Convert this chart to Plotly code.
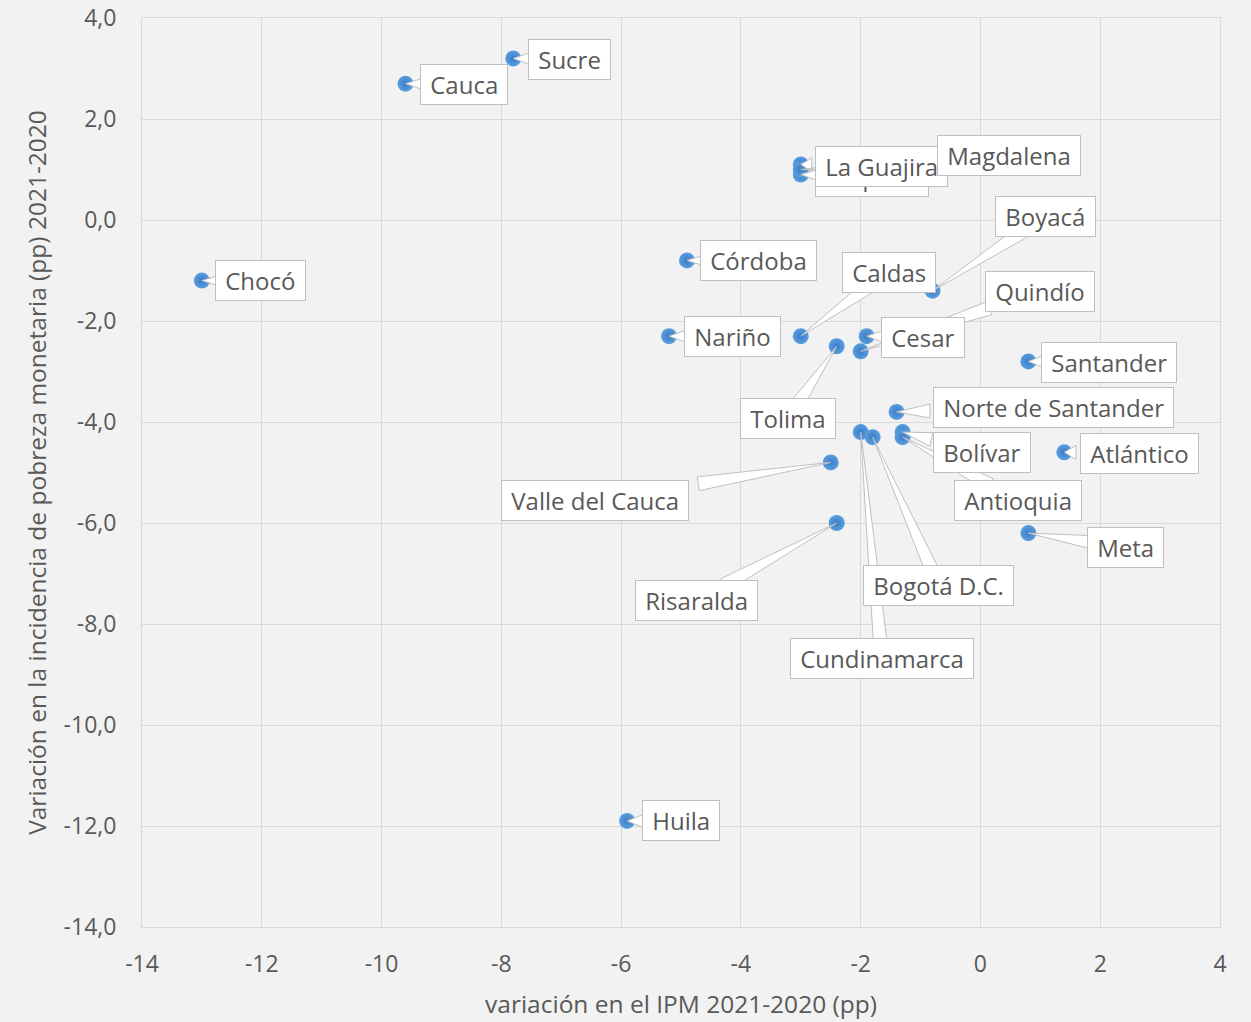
import math
import plotly.graph_objects as go

# Departments and their changes 2021-2020 (percentage points)
departamentos = [
    "Chocó", "Cauca", "Sucre", "La Guajira", "Caquetá", "Magdalena",
    "Córdoba", "Nariño", "Caldas", "Boyacá", "Quindío", "Cesar", "Tolima",
    "Santander", "Norte de Santander", "Bolívar", "Antioquia", "Atlántico",
    "Valle del Cauca", "Risaralda", "Cundinamarca", "Bogotá D.C.", "Meta",
    "Huila",
]
var_ipm = [
    -13.0, -9.6, -7.8, -3.0, -3.0, -3.0,
    -4.9, -5.2, -3.0, -0.8, -2.0, -1.9, -2.4,
    0.8, -1.4, -1.3, -1.3, 1.4,
    -2.5, -2.4, -2.0, -1.8, 0.8,
    -5.9,
]
var_pobreza = [
    -1.2, 2.7, 3.2, 1.1, 0.9, 1.0,
    -0.8, -2.3, -2.3, -1.4, -2.6, -2.3, -2.5,
    -2.8, -3.8, -4.2, -4.3, -4.6,
    -4.8, -6.0, -4.2, -4.3, -6.2,
    -11.9,
]

x_ticks = [-14, -12, -10, -8, -6, -4, -2, 0, 2, 4]
x_tick_labels = ["-14", "-12", "-10", "-8", "-6", "-4", "-2", "0", "2", "4"]
y_ticks = [4, 2, 0, -2, -4, -6, -8, -10, -12, -14]
y_tick_labels = ["4,0", "2,0", "0,0", "-2,0", "-4,0", "-6,0", "-8,0",
                 "-10,0", "-12,0", "-14,0"]

# Callout box centre relative to its point, in screen pixels (right, down)
label_offsets = {
    "Chocó": (59, 0), "Cauca": (58, 1), "Sucre": (56, 1),
    "La Guajira": (81, 2), "Caquetá": (71, 2), "Magdalena": (208, -14),
    "Córdoba": (72, 0), "Nariño": (63, 0), "Caldas": (88, -64),
    "Boyacá": (113, -74), "Quindío": (179, -60), "Cesar": (56, 1),
    "Tolima": (-49, 72), "Santander": (81, 1),
    "Norte de Santander": (157, -4), "Bolívar": (79, 20),
    "Antioquia": (115, 63), "Atlántico": (75, 1),
    "Valle del Cauca": (-236, 38), "Risaralda": (-140, 77),
    "Cundinamarca": (21, 226), "Bogotá D.C.": (66, 148),
    "Meta": (97, 14), "Huila": (54, 0),
}
# Drawing order of the callouts (later ones sit on top)
label_order = [
    "Chocó", "Cauca", "Sucre", "Caquetá", "La Guajira", "Magdalena",
    "Córdoba", "Nariño", "Caldas", "Boyacá", "Quindío", "Cesar", "Tolima",
    "Santander", "Antioquia", "Bolívar", "Norte de Santander", "Atlántico",
    "Valle del Cauca", "Risaralda", "Cundinamarca", "Bogotá D.C.", "Meta",
    "Huila",
]

FIG_W, FIG_H = 1251, 1022
M_L, M_R, M_T, M_B = 142, 31, 18, 95
X_RANGE = (-14, 4)
Y_RANGE = (-14, 4)
PX_X = (FIG_W - M_L - M_R) / (X_RANGE[1] - X_RANGE[0])
PX_Y = (FIG_H - M_T - M_B) / (Y_RANGE[1] - Y_RANGE[0])

FONT = "Open Sans"
TEXT_COLOR = "#595959"
BORDER = "#bfbfbf"
FONT_SIZE = 24
BOX_HALF_H = 20
PAD = "\u00a0"


def box_half_width(text):
    return len(text) * 6.7 + 13


def wedge_path(x, y, text, dx, dy):
    """Callout pointer from the point (x, y) into its label box."""
    dist = math.hypot(dx, dy)
    ux, uy = dx / dist, dy / dist
    hw, hh = box_half_width(text), BOX_HALF_H
    # distance from box centre back to its edge along the pointer
    tx = hw / abs(ux) if ux else float("inf")
    ty = hh / abs(uy) if uy else float("inf")
    edge = dist - min(tx, ty)
    base = edge + 10
    half = 7
    bx, by = ux * base, uy * base
    px, py = -uy * half, ux * half
    pts = [(0, 0), (bx + px, by + py), (bx - px, by - py)]
    coords = [(x + p[0] / PX_X, y - p[1] / PX_Y) for p in pts]
    return "M {} Z".format(" L ".join(f"{a:.4f},{b:.4f}" for a, b in coords))


fig = go.Figure()

fig.add_trace(go.Scatter(
    x=var_ipm, y=var_pobreza, mode="markers", text=departamentos,
    marker=dict(size=16, color="#5a9ee0",
                gradient=dict(type="radial", color="#3a7cc4"),
                line=dict(width=0)),
    hoverinfo="text", showlegend=False,
))

lookup = {d: (xv, yv) for d, xv, yv in zip(departamentos, var_ipm, var_pobreza)}
shapes = []
annotations = []
for name in label_order:
    xv, yv = lookup[name]
    dx, dy = label_offsets[name]
    shapes.append(dict(
        type="path", xref="x", yref="y", path=wedge_path(xv, yv, name, dx, dy),
        fillcolor="white", line=dict(color=BORDER, width=1), layer="above",
    ))
    annotations.append(dict(
        x=xv, y=yv, xref="x", yref="y", text=PAD + name + PAD, showarrow=False,
        xshift=dx, yshift=-dy, xanchor="center", yanchor="middle",
        font=dict(family=FONT, size=FONT_SIZE, color=TEXT_COLOR),
        bgcolor="white", bordercolor=BORDER, borderwidth=1, borderpad=3,
    ))

axis_common = dict(
    showgrid=True, gridcolor="#d9d9d9", gridwidth=1, automargin=False,
    zeroline=False, showline=True, linecolor="#d9d9d9", linewidth=1,
    mirror=True, ticks="", tickfont=dict(family=FONT, size=23, color=TEXT_COLOR),
)

fig.update_layout(
    width=FIG_W, height=FIG_H,
    margin=dict(l=M_L, r=M_R, t=M_T, b=M_B),
    paper_bgcolor="#f2f2f2", plot_bgcolor="#f2f2f2",
    shapes=shapes, annotations=annotations,
    xaxis=dict(
        range=list(X_RANGE), tickvals=x_ticks, ticktext=x_tick_labels,
        ticklabelstandoff=16,
        title=dict(text="variación en el IPM 2021-2020 (pp)", standoff=18,
                   font=dict(family=FONT, size=24.5, color=TEXT_COLOR)),
        **axis_common,
    ),
    yaxis=dict(
        range=list(Y_RANGE), tickvals=y_ticks, ticktext=y_tick_labels,
        ticklabelstandoff=20,
        title=dict(text="Variación en la incidencia de pobreza monetaria (pp) 2021-2020",
                   standoff=10,
                   font=dict(family=FONT, size=24.5, color=TEXT_COLOR)),
        **axis_common,
    ),
)

fig.write_html("out.html")
